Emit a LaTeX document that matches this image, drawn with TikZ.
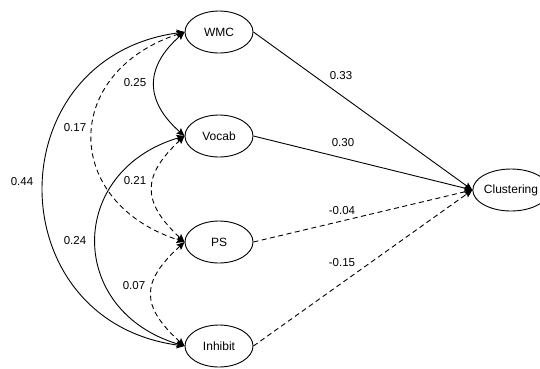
\documentclass[tikz,border=0pt]{standalone}
\usepackage{fontspec}
\setmainfont{Liberation Sans}
\usetikzlibrary{arrows.meta,shapes.geometric}
\begin{document}
\begin{tikzpicture}[x=1pt,y=-1pt,
  latent/.style={draw, line width=0.9pt, ellipse, minimum width=68pt, minimum height=42pt,
    inner sep=0pt, font=\fontsize{12}{14}\selectfont},
  tip/.tip={Stealth[length=8pt,width=7pt,inset=1.5pt]},
  regpath/.style={line width=0.9pt, -tip},
  cov/.style={line width=0.9pt, tip-tip},
  dsh/.style={dash pattern=on 5pt off 3.5pt},
  coef/.style={font=\fontsize{11.5}{13}\selectfont, inner sep=0pt}]

\useasboundingbox (0,0) rectangle (540,368);
\fill[white] (0,0) rectangle (540,368);

% latent variables
\node[latent] (wmc) at (219,32)  {WMC};
\node[latent] (voc) at (219,136) {Vocab};
\node[latent] (ps)  at (219,242) {PS};
\node[latent] (inh) at (219,346) {Inhibit};
\node[latent] (clu) at (511,190) {Clustering};

% regression paths
\draw[regpath]     (wmc.east) -- (clu.west);
\draw[regpath]     (voc.east) -- (clu.west);
\draw[regpath,dsh] (ps.east)  -- (clu.west);
\draw[regpath,dsh] (inh.east) -- (clu.west);

% covariances
\draw[cov]     (wmc.west) .. controls +(-40,35)  and +(-40,-35)  .. (voc.west);
\draw[cov,dsh] (wmc.west) .. controls +(-123,40) and +(-123,-40) .. (ps.west);
\draw[cov]     (wmc.west) .. controls +(-188,25) and +(-188,-25) .. (inh.west);
\draw[cov,dsh] (voc.west) .. controls +(-43,40)  and +(-43,-40)  .. (ps.west);
\draw[cov]     (voc.west) .. controls +(-118,35) and +(-118,-35) .. (inh.west);
\draw[cov,dsh] (ps.west)  .. controls +(-44,40)  and +(-44,-40)  .. (inh.west);

% coefficients
\node[coef] (c44) at (22,182)  {0.44};
\node[coef] (c25) at (135,83)  {0.25};
\node[coef] (c17) at (75,128)  {0.17};
\node[coef] (c21) at (135,181) {0.21};
\node[coef] (c24) at (75,241)  {0.24};
\node[coef] (c07) at (134,286) {0.07};
\node[coef] (c33) at (341,76)  {0.33};
\node[coef] (c30) at (343,143) {0.30};
\node[coef] (c04) at (342,211) {-0.04};
\node[coef] (c15) at (342,263) {-0.15};
\end{tikzpicture}
\end{document}
